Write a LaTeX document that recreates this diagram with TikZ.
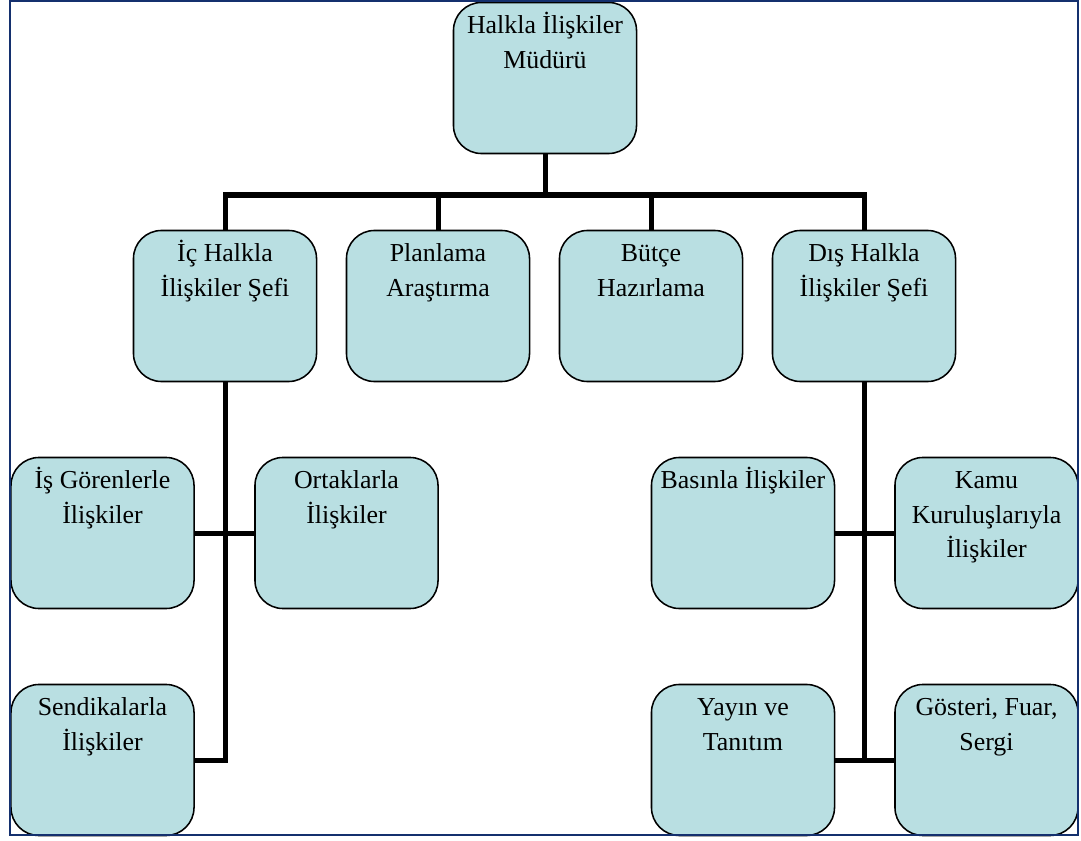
\documentclass[tikz,border=0pt]{standalone}
\usepackage{fontspec}
\setmainfont{Liberation Serif}
\usetikzlibrary{positioning, calc}
\definecolor{unitfill}{HTML}{B9DFE2}
\definecolor{framenavy}{HTML}{14306E}

\newcommand{\unittext}[1]{\parbox[c][3.775cm][t]{4.575cm}{\centering\rule{0pt}{0.78cm}#1}}

\begin{document}
\begin{tikzpicture}[
      x=0.025cm, y=-0.025cm,
      every node/.style={font=\fontsize{18.4}{24.6}\selectfont},
      unit/.style={draw, line width=1.1pt, fill=unitfill, rounded corners=0.7cm, inner sep=0pt},
      link/.style={line width=0.125cm},
    ]
    \useasboundingbox (0,0) rectangle (1081,841);

    % top level
    \node[unit] (mgr) at (545,78) {\unittext{Halkla İlişkiler\\Müdürü}};
    \coordinate (bus) at (545,195);

    % chiefs and staff units
    \node[unit] (ic)    at (225,306) {\unittext{İç Halkla\\İlişkiler Şefi}};
    \node[unit] (plan)  at (438,306) {\unittext{Planlama\\Araştırma}};
    \node[unit] (butce) at (651,306) {\unittext{Bütçe\\Hazırlama}};
    \node[unit] (dis)   at (864,306) {\unittext{Dış Halkla\\İlişkiler Şefi}};

    % internal relations
    \node[unit] (isgoren) at (102.5,533) {\unittext{İş Görenlerle\\İlişkiler}};
    \node[unit] (ortak)   at (346.5,533) {\unittext{Ortaklarla\\İlişkiler}};
    \node[unit] (sendika) at (102.5,760) {\unittext{Sendikalarla\\İlişkiler}};

    % external relations
    \node[unit] (basin)  at (743,533)   {\unittext{Basınla İlişkiler}};
    \node[unit] (kamu)   at (986.5,533) {\unittext{Kamu\\Kuruluşlarıyla\\İlişkiler}};
    \node[unit] (yayin)  at (743,760)   {\unittext{Yayın ve\\Tanıtım}};
    \node[unit] (goster) at (986.5,760) {\unittext{Gösteri, Fuar,\\Sergi}};

    \draw[link] (mgr.south) -- (bus);
    \draw[link] (ic.north) |- (bus) -| (dis.north);
    \draw[link] (plan.north) -- (plan.north |- bus);
    \draw[link] (butce.north) -- (butce.north |- bus);

    \draw[link] (ic.south) |- (sendika.east);
    \draw[link] (isgoren.east) -- (ortak.west);

    \draw[link] (dis.south) -- (dis.south |- yayin.east);
    \draw[link] (basin.east) -- (kamu.west);
    \draw[link] (yayin.east) -- (goster.west);

    \draw[framenavy, line width=0.05cm] (10,1) rectangle (1078,835);
  \end{tikzpicture}
\end{document}
